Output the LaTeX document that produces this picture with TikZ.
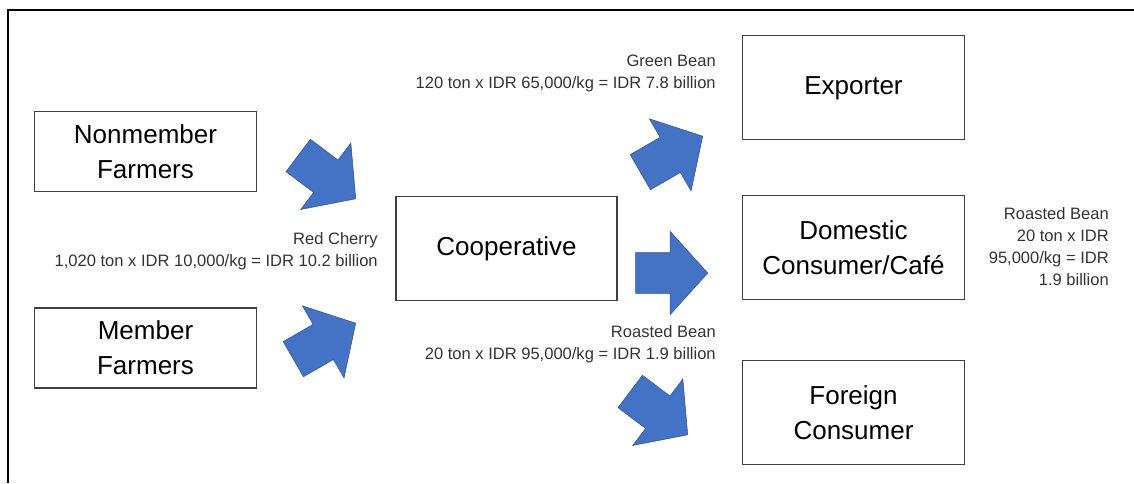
\documentclass[tikz,border=0pt]{standalone}
\usepackage{fontspec}
\setmainfont{Liberation Sans}
\usetikzlibrary{positioning, shapes.arrows}

\definecolor{flowblue}{HTML}{4472C4}
\definecolor{flowedge}{HTML}{2F528F}

\tikzset{
  unitbox/.style={draw=black!75, line width=0.8pt, align=center, inner sep=0pt,
    minimum width=167pt, minimum height=78pt, font=\fontsize{19.5}{26}\selectfont},
  farmbox/.style={unitbox, minimum height=60pt},
  flow/.style={shape=single arrow, fill=flowblue, draw=flowedge, line width=0.4pt,
    inner xsep=0pt, inner ysep=15pt, minimum height=54pt,
    single arrow head extend=16pt, single arrow tip angle=96, anchor=tip},
  trade/.style={align=right, inner sep=0pt, text=black!80, font=\fontsize{12.4}{16.5}\selectfont}
}

\begin{document}
\begin{tikzpicture}[x=0.75pt, y=-0.75pt, node distance=10pt]
			\useasboundingbox (0,0) rectangle (1134,483);
			\draw[black, line width=1pt] (8,483) -- (8,10) -- (1134,10);
			\node[farmbox] (nonmember) at (145.5,151.5) {Nonmember\\Farmers};
			\node[farmbox] (member) at (145.5,348) {Member\\Farmers};
			\node[unitbox, minimum width=165.75pt] (coop) at (506.5,248.5) {Cooperative};
			\node[unitbox] (domestic) at (853.5,247.5) {Domestic\\Consumer/Caf\'e};
			\node[unitbox, above=41pt of domestic] (exporter) {Exporter};
			\node[unitbox, below=45pt of domestic] (foreign) {Foreign\\Consumer};
			% block arrows, placed by their tips
			\node[flow, rotate=-37] (nm to coop) at (356,199) {};
			\node[flow, rotate=30] (m to coop) at (356,323) {};
			\node[flow, rotate=30] (coop to exp) at (703,136) {};
			\node[flow] (coop to dom) at (708,273) {};
			\node[flow, rotate=-37] (coop to for) at (688,435) {};
			\node[trade, anchor=east] (green) at (716,73) {Green Bean\\120 ton x IDR 65,000/kg = IDR 7.8 billion};
			\node[trade, anchor=east] (cherry) at (378,251) {Red Cherry\\1,020 ton x IDR 10,000/kg = IDR 10.2 billion};
			\node[trade, anchor=east] (roasted) at (716,344) {Roasted Bean\\20 ton x IDR 95,000/kg = IDR 1.9 billion};
			\node[trade, anchor=east] (roasted dom) at (1109,247) {Roasted Bean\\20 ton x IDR\\95,000/kg = IDR\\1.9 billion};
		\end{tikzpicture}
\end{document}
